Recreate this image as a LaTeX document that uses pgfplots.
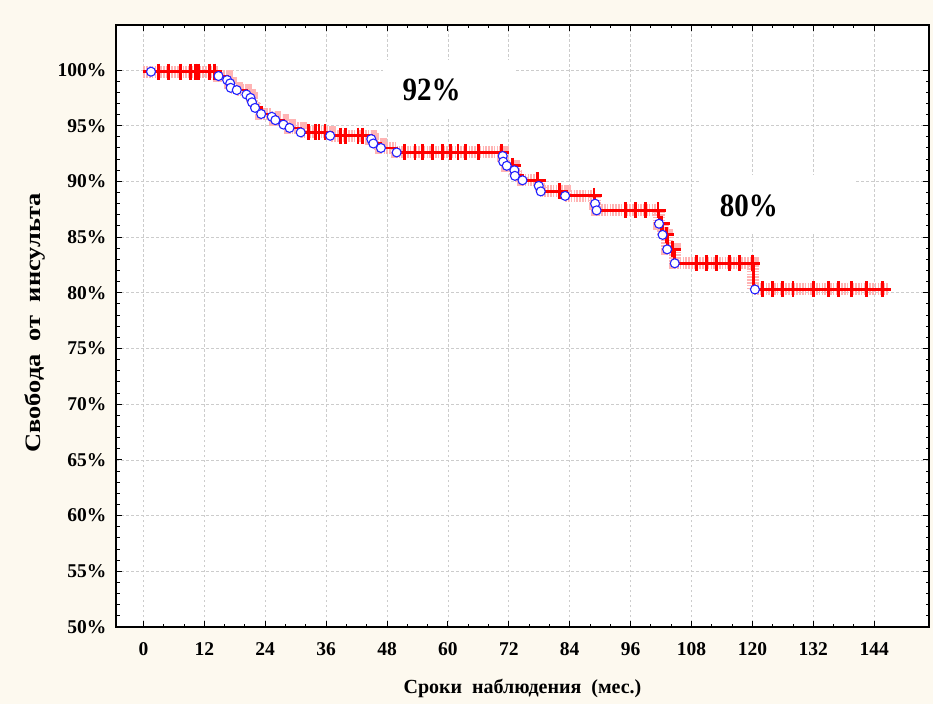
\documentclass[border=0pt]{standalone}
\usepackage{fontspec}
\setmainfont{Liberation Serif}
\usepackage{pgfplots}
\usepackage{pgfplotstable}
\pgfplotsset{compat=1.18}

\definecolor{bgcream}{HTML}{FDF9EF}
\definecolor{kmred}{HTML}{FF0000}
\definecolor{kmblue}{HTML}{2020FF}
\definecolor{ghost}{HTML}{FFB4B4}

% step curve (months, survival %)
\pgfplotstableread{
t s
0 99.85
1.5 99.85
14.8 99.46
16.5 99.1
17.1 98.8
17.2 98.4
18.4 98.2
20.3 97.8
21.1 97.5
21.4 97.1
22.0 96.6
23.2 96.05
25.3 95.8
26.0 95.5
27.6 95.1
28.8 94.8
31.0 94.4
36.8 94.1
44.9 93.8
45.3 93.4
46.8 93.0
49.9 92.6
70.8 92.28
70.9 91.77
71.6 91.4
73.1 91.0
73.2 90.5
74.7 90.1
77.9 89.6
78.3 89.1
83.1 88.7
89.0 88.0
89.3 87.4
101.6 86.2
102.3 85.2
103.2 83.9
104.7 82.65
120.2 80.3
146.7 80.3
}\kmcurve

% events (circles)
\pgfplotstableread{
t s
1.5 99.85
14.8 99.46
16.5 99.1
17.1 98.8
17.2 98.4
18.4 98.2
20.3 97.8
21.1 97.5
21.4 97.1
22.0 96.6
23.2 96.05
25.3 95.8
26.0 95.5
27.6 95.1
28.8 94.8
31.0 94.4
36.8 94.1
44.9 93.8
45.3 93.4
46.8 93.0
49.9 92.6
70.8 92.28
70.9 91.77
71.6 91.4
73.1 91.0
73.2 90.5
74.7 90.1
77.9 89.6
78.3 89.1
83.1 88.7
89.0 88.0
89.3 87.4
101.6 86.2
102.3 85.2
103.2 83.9
104.7 82.65
120.5 80.3
}\kmevents

% censored (crosses)
\pgfplotstableread{
t s
3 99.85
5 99.85
7.3 99.85
9.3 99.85
10.2 99.85
10.8 99.85
13 99.85
14 99.85
32.5 94.4
33.9 94.4
34.6 94.4
35.8 94.4
38.8 94.1
39.8 94.1
42.3 94.1
43.1 94.1
51.5 92.6
53.5 92.6
55 92.6
57 92.6
59 92.6
60.5 92.6
62 92.6
63.4 92.6
66 92.6
70.5 92.6
72.8 91.4
77.7 90.1
82.0 89.1
88.8 88.7
95 87.4
97 87.4
99 87.4
101.4 87.4
102.1 86.2
103.0 85.2
104.3 83.9
109 82.65
111 82.65
113 82.65
115.5 82.65
117.5 82.65
120 82.65
122 80.3
124 80.3
126 80.3
128 80.3
132 80.3
135 80.3
137 80.3
139.5 80.3
142.5 80.3
145.7 80.3
}\kmcensor

\begin{document}
\begin{tikzpicture}
\fill[bgcream] (0pt,0pt) rectangle (933pt,704pt);
\begin{axis}[
  at={(116pt,77pt)}, anchor=south west,
  scale only axis, width=813pt, height=602pt,
  xmin=-5.4, xmax=154.8, ymin=50, ymax=104.04,
  xtick={0,12,...,144}, ytick={50,55,...,100},
  minor x tick num=2, minor y tick num=4,
  major tick length=6pt, minor tick length=3.5pt,
  tick style={black, line width=1pt},
  axis line style={black, line width=1.6pt},
  axis background/.style={fill=white},
  grid=major,
  major grid style={gray!40, dash pattern=on 2.5pt off 2.5pt, line width=0.8pt},
  yticklabel={\pgfmathprintnumber{\tick}\%},
  /pgf/number format/assume math mode=true,
  ticklabel style={font=\fontsize{19.5}{22}\selectfont\bfseries},
  xticklabel style={yshift=-12pt},
  yticklabel style={xshift=-6pt},
  xlabel={Сроки\ \ наблюдения\ \ (мес.)},
  ylabel={Свобода\ \ от\ \ инсульта},
  every axis x label/.style={at={(axis description cs:0.5,-0.1013)}, anchor=center,
    font=\fontsize{20}{22}\selectfont\bfseries},
  every axis y label/.style={at={(axis description cs:-0.0996,0.505)}, rotate=90, xscale=1.2,
    anchor=center, font=\fontsize{22}{24}\selectfont\bfseries},
]
\fill[white] (axis cs:47.2,100.9) rectangle (axis cs:73.2,95.8);
\fill[white] (axis cs:109.7,90.6) rectangle (axis cs:140.2,85.5);

\addplot[const plot, draw=ghost, line width=12pt, dash pattern=on 1.6pt off 1.2pt]
  table[x=t, y=s] {\kmcurve};
\addplot[const plot, draw=kmred, line width=2.8pt] table[x=t, y=s] {\kmcurve};
\addplot[only marks, mark=+, mark size=8pt, mark options={draw=kmred, line width=2.8pt}]
  table[x=t, y=s] {\kmcensor};
\addplot[only marks, mark=*, mark size=4.5pt, mark options={fill=white, draw=kmblue, line width=1.1pt}]
  table[x=t, y=s] {\kmevents};

\node[font=\fontsize{29}{32}\selectfont\bfseries, yscale=1.12] at (axis cs:56.8,98.2) {92\%};
\node[font=\fontsize{29}{32}\selectfont\bfseries, yscale=1.12] at (axis cs:119.3,87.8) {80\%};
\end{axis}
\end{tikzpicture}
\end{document}
